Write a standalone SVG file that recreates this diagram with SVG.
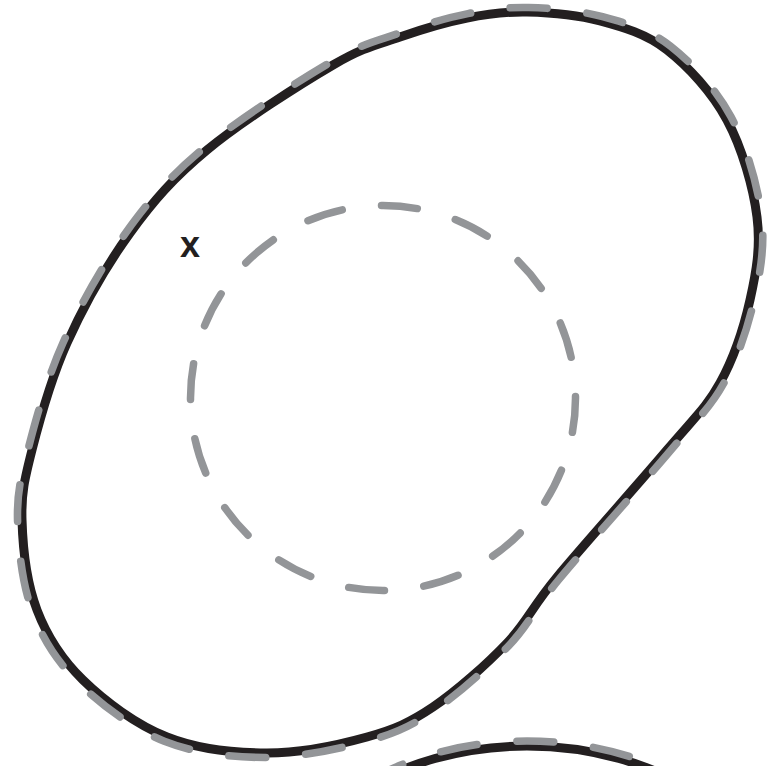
<svg xmlns="http://www.w3.org/2000/svg" width="776" height="766" viewBox="0 0 776 766">
<style>
.solid{fill:none;stroke:#231f20;stroke-width:9}
.dash{fill:none;stroke:#939598;stroke-width:7.5;stroke-linecap:round}
.lbl{font-family:"Liberation Sans",Arial,sans-serif;font-weight:bold;font-size:36px;fill:#231f20;text-anchor:middle}
</style>
<rect width="776" height="766" fill="#ffffff"/>
<defs>
<path id="blobPath" d="M527,12 C549.2,12.5 576.7,14.7 600,21 C623.3,27.3 645.8,33.5 667,50 C688.2,66.5 712,92.2 727,120 C742,147.8 753.2,187 757,217 C760.8,247 756.2,272.3 750,300 C743.8,327.7 733.8,358 720,383 C706.2,408 694.2,417.7 667,450 C639.8,482.3 583.7,544.8 557,577 C530.3,609.2 527.7,621.3 507,643 C486.3,664.7 456.3,691.3 433,707 C409.7,722.7 394.7,729.3 367,737 C339.3,744.7 300.3,753 267,753 C233.7,753 197.7,749.2 167,737 C136.3,724.8 104.7,701.2 83,680 C61.3,658.8 47.2,636.7 37,610 C26.8,583.3 22.8,546.7 22,520 C21.2,493.3 24.5,479.5 32,450 C39.5,420.5 50.7,379.2 67,343 C83.3,306.8 106.7,265.2 130,233 C153.3,200.8 173.2,178 207,150 C240.8,122 300.8,83.8 333,65 C365.2,46.2 377.7,44.8 400,37 C422.3,29.2 445.8,22.2 467,18 C488.2,13.8 504.8,11.5 527,12 Z"/>
</defs>
<g id="blob">
<use href="#blobPath" class="solid"/>
<path class="dash" transform="translate(390 383) scale(1.012) translate(-390 -383)" pathLength="3000" stroke-dasharray="48 52" stroke-dashoffset="24" d="M527,12 C549.2,12.5 576.7,14.7 600,21 C623.3,27.3 645.8,33.5 667,50 C688.2,66.5 712,92.2 727,120 C742,147.8 753.2,187 757,217 C760.8,247 756.2,272.3 750,300 C743.8,327.7 733.8,358 720,383 C706.2,408 694.2,417.7 667,450 C639.8,482.3 583.7,544.8 557,577 C530.3,609.2 527.7,621.3 507,643 C486.3,664.7 456.3,691.3 433,707 C409.7,722.7 394.7,729.3 367,737 C339.3,744.7 300.3,753 267,753 C233.7,753 197.7,749.2 167,737 C136.3,724.8 104.7,701.2 83,680 C61.3,658.8 47.2,636.7 37,610 C26.8,583.3 22.8,546.7 22,520 C21.2,493.3 24.5,479.5 32,450 C39.5,420.5 50.7,379.2 67,343 C83.3,306.8 106.7,265.2 130,233 C153.3,200.8 173.2,178 207,150 C240.8,122 300.8,83.8 333,65 C365.2,46.2 377.7,44.8 400,37 C422.3,29.2 445.8,22.2 467,18 C488.2,13.8 504.8,11.5 527,12 Z"/>
</g>
<g id="inner-circle">
<path class="dash" pathLength="1600" stroke-dasharray="47.6 52.4" stroke-dashoffset="2" d="M575.5,398 A192.5,192.5 0 0 1 190.5,398 A192.5,192.5 0 0 1 575.5,398 Z"/>
</g>
<g id="marker-x">
<text class="lbl" x="190" y="257">x</text>
</g>
<g id="lower-shape">
<path class="solid" d="M277,924 A250,178 0 0 1 777,924"/>
<path class="dash" stroke-dasharray="37 40" stroke-dashoffset="49" d="M272,924 A255,183 0 0 1 782,924"/>
</g>
</svg>
